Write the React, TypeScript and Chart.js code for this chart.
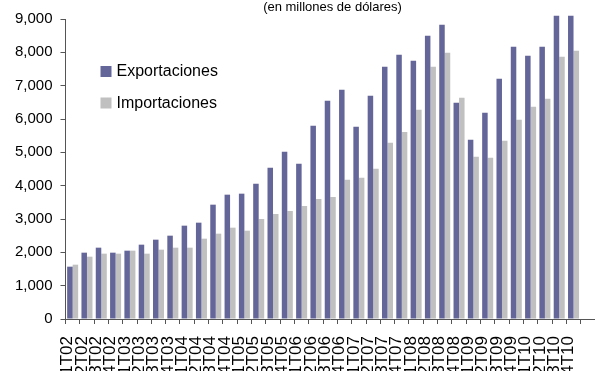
import React, { useEffect, useRef } from "react";
import { Chart, registerables } from "chart.js";

Chart.register(...registerables);

const categories = [
  "1T02", "2T02", "3T02", "4T02",
  "1T03", "2T03", "3T03", "4T03",
  "1T04", "2T04", "3T04", "4T04",
  "1T05", "2T05", "3T05", "4T05",
  "1T06", "2T06", "3T06", "4T06",
  "1T07", "2T07", "3T07", "4T07",
  "1T08", "2T08", "3T08", "4T08",
  "1T09", "2T09", "3T09", "4T09",
  "1T10", "2T10", "3T10", "4T10",
  "",
];

const exportaciones = [
  1570, 1990, 2140, 1990,
  2050, 2230, 2380, 2500,
  2800, 2890, 3430, 3730,
  3760, 4060, 4540, 5020,
  4660, 5800, 6550, 6880,
  5770, 6700, 7570, 7930,
  7750, 8500, 8830, 6490,
  5380, 6190, 7210, 8170,
  7900, 8170, 9100, 9100,
  null,
];

const importaciones = [
  1630, 1870, 1960, 1960,
  2050, 1960, 2080, 2140,
  2140, 2410, 2560, 2740,
  2650, 3000, 3150, 3240,
  3390, 3600, 3660, 4180,
  4240, 4510, 5290, 5610,
  6280, 7570, 7990, 6640,
  4870, 4840, 5350, 5980,
  6370, 6610, 7870, 8050,
  null,
];

const titleText = "(en millones de dólares)";
const FONT = "'Liberation Sans', Arial, sans-serif";

const overlayPlugin = {
  id: "overlay",
  afterDraw(chart: any) {
    const ctx = chart.ctx;
    const area = chart.chartArea;
    ctx.save();
    ctx.fillStyle = "#000";
    ctx.font = `13px ${FONT}`;
    ctx.textAlign = "center";
    ctx.textBaseline = "alphabetic";
    ctx.fillText(titleText, area.left + 267, 11);
    ctx.font = `16px ${FONT}`;
    ctx.textAlign = "left";
    ctx.textBaseline = "middle";
    chart.data.datasets.forEach((ds: any, i: number) => {
      const cy = area.top + 52 + i * 31.5;
      const x = area.left + 35;
      ctx.fillStyle = ds.backgroundColor;
      ctx.fillRect(x, cy - 5, 11, 11);
      ctx.fillStyle = "#000";
      ctx.fillText(ds.label, x + 16, cy + 1);
    });
    ctx.restore();
  },
};

export default function App() {
  const ref = useRef<HTMLCanvasElement>(null);
  useEffect(() => {
    document.body.style.margin = "0";
    const chart = new Chart(ref.current!, {
      type: "bar",
      data: {
        labels: categories,
        datasets: [
          {
            label: "Exportaciones",
            data: exportaciones,
            backgroundColor: "#646699",
            categoryPercentage: 0.77,
            barPercentage: 1.0,
            clip: false,
          },
          {
            label: "Importaciones",
            data: importaciones,
            backgroundColor: "#c0c0c0",
            categoryPercentage: 0.77,
            barPercentage: 1.0,
            clip: false,
          },
        ],
      },
      options: {
        animation: false,
        responsive: false,
        maintainAspectRatio: false,
        layout: { padding: { top: 19, right: 0, left: 0, bottom: 0 } },
        plugins: {
          legend: { display: false },
          title: { display: false },
          tooltip: { enabled: false },
        },
        scales: {
          x: {
            grid: {
              display: true,
              offset: true,
              drawOnChartArea: false,
              drawTicks: true,
              tickLength: 5,
              color: "#555",
            },
            border: { display: true, color: "#555", width: 1 },
            ticks: {
              autoSkip: false,
              maxRotation: 90,
              minRotation: 90,
              padding: 12,
              labelOffset: -5,
              color: "#000",
              font: { family: FONT, size: 17 },
            },
            afterFit(scale: any) {
              scale.height = 52;
              scale.paddingLeft = 0;
              scale.paddingRight = 0;
            },
          },
          y: {
            min: 0,
            max: 9000,
            grid: {
              display: true,
              drawOnChartArea: false,
              drawTicks: true,
              tickLength: 5,
              color: "#555",
            },
            border: { display: true, color: "#555", width: 1 },
            ticks: {
              stepSize: 1000,
              padding: 8,
              color: "#000",
              font: { family: FONT, size: 15 },
              callback: (v: any) => Number(v).toLocaleString("en-US"),
            },
            afterFit(scale: any) {
              scale.width = 65.5;
              scale.paddingTop = 0;
              scale.paddingBottom = 0;
            },
          },
        },
      },
      plugins: [overlayPlugin],
    });
    return () => chart.destroy();
  }, []);
  return (
    <div style={{ width: 595, height: 371 }}>
      <canvas ref={ref} width={595} height={371} style={{ display: "block" }} />
    </div>
  );
}
